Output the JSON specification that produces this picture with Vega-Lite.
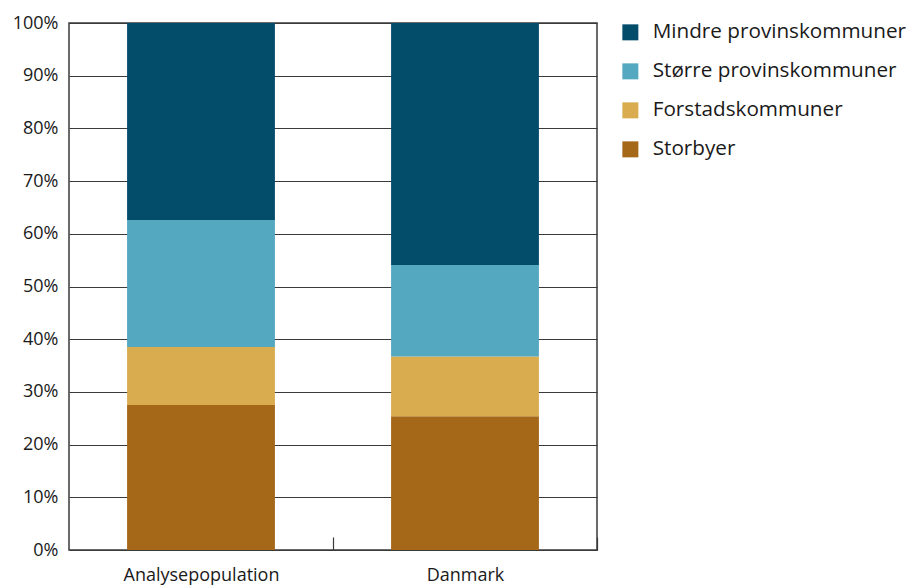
{
  "$schema": "https://vega.github.io/schema/vega-lite/v6.json",
  "width": 528,
  "height": 527,
  "autosize": "none",
  "padding": {"left": 69, "top": 23, "right": 316, "bottom": 35},
  "background": "white",
  "config": {
    "font": "Open Sans",
    "view": {"stroke": "#3a3a3a", "strokeWidth": 1.5}
  },
  "data": {
    "values": [
      {"gruppe": "Analysepopulation", "type": "Storbyer", "andel": 27.5, "ord": 1},
      {"gruppe": "Analysepopulation", "type": "Forstadskommuner", "andel": 11.0, "ord": 2},
      {"gruppe": "Analysepopulation", "type": "Større provinskommuner", "andel": 24.1, "ord": 3},
      {"gruppe": "Analysepopulation", "type": "Mindre provinskommuner", "andel": 37.4, "ord": 4},
      {"gruppe": "Danmark", "type": "Storbyer", "andel": 25.4, "ord": 1},
      {"gruppe": "Danmark", "type": "Forstadskommuner", "andel": 11.3, "ord": 2},
      {"gruppe": "Danmark", "type": "Større provinskommuner", "andel": 17.4, "ord": 3},
      {"gruppe": "Danmark", "type": "Mindre provinskommuner", "andel": 45.9, "ord": 4}
    ]
  },
  "mark": {"type": "bar"},
  "encoding": {
    "x": {
      "field": "gruppe",
      "type": "nominal",
      "sort": ["Analysepopulation", "Danmark"],
      "scale": {"paddingInner": 0.44, "paddingOuter": 0.22},
      "axis": {
        "title": null,
        "labelAngle": 0,
        "labelFontSize": 18,
        "labelColor": "#1a1a1a",
        "labelPadding": 29,
        "tickOffset": 132,
        "labelOffset": -132,
        "tickSize": -13,
        "tickColor": "#3a3a3a",
        "tickWidth": 1.2,
        "domain": false,
        "grid": false
      }
    },
    "y": {
      "field": "andel",
      "type": "quantitative",
      "stack": "zero",
      "scale": {"domain": [0, 100], "nice": false},
      "axis": {
        "title": null,
        "values": [0, 10, 20, 30, 40, 50, 60, 70, 80, 90, 100],
        "labelExpr": "datum.value + '%'",
        "labelFontSize": 18,
        "labelColor": "#1a1a1a",
        "labelPadding": 11,
        "ticks": false,
        "domain": false,
        "grid": true,
        "gridColor": "#3a3a3a",
        "gridWidth": 1.2,
        "gridOpacity": 1
      }
    },
    "color": {
      "field": "type",
      "type": "nominal",
      "scale": {
        "domain": ["Mindre provinskommuner", "Større provinskommuner", "Forstadskommuner", "Storbyer"],
        "range": ["#034d6b", "#54a8bf", "#d8ac4f", "#a56819"]
      },
      "legend": {
        "title": null,
        "orient": "none",
        "legendX": 551,
        "legendY": -1,
        "symbolType": "square",
        "symbolSize": 256,
        "symbolStrokeWidth": 0,
        "symbolOpacity": 1,
        "labelFontSize": 20.7,
        "labelLimit": 400,
        "labelColor": "#1a1a1a",
        "labelOffset": 12,
        "rowPadding": 17
      }
    },
    "order": {"field": "ord", "type": "quantitative"}
  }
}
